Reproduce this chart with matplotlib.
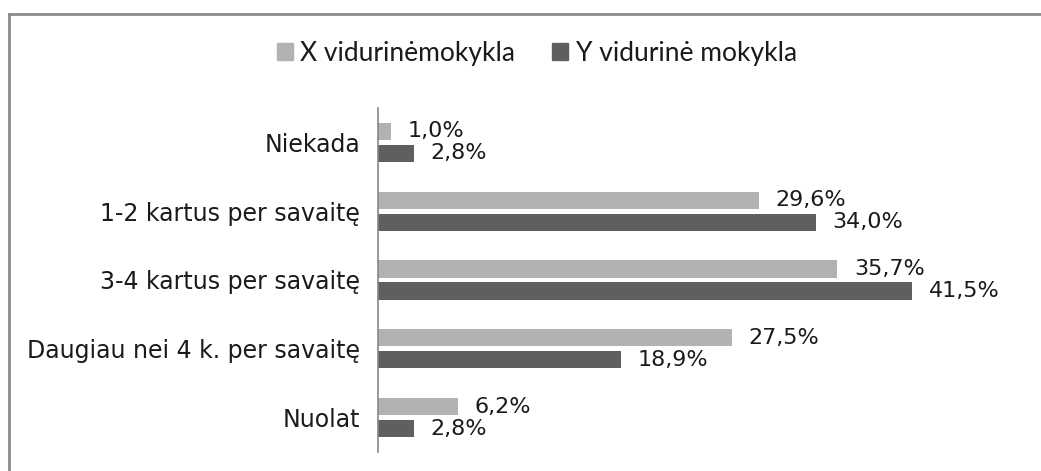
import matplotlib
matplotlib.use("Agg")
import matplotlib.pyplot as plt
from matplotlib.lines import Line2D
from matplotlib.patches import Patch
import numpy as np

categories = ["Niekada", "1-2 kartus per savaitę", "3-4 kartus per savaitę",
              "Daugiau nei 4 k. per savaitę", "Nuolat"]
series_names = ["X vidurinėmokykla", "Y vidurinė mokykla"]
x_values = [1.0, 29.6, 35.7, 27.5, 6.2]
y_values = [2.8, 34.0, 41.5, 18.9, 2.8]
colors = ["#b2b2b2", "#5f5f5f"]

W, H = 1041, 471
fig = plt.figure(figsize=(W / 100, H / 100), dpi=100)
ax = fig.add_axes([378 / W, 19 / H, 640 / W, 344 / H])

n = len(categories)
pos = np.arange(n)
bh = 0.25
gap = 0.07
ax.barh(pos - (bh + gap) / 2, x_values, height=bh, color=colors[0])
ax.barh(pos + (bh + gap) / 2, y_values, height=bh, color=colors[1])

for p, v in zip(pos, x_values):
    ax.text(v + 1.3, p - (bh + gap) / 2, f"{v:.1f}%".replace(".", ","),
            va="center", ha="left", fontsize=16, color="#1a1a1a")
for p, v in zip(pos, y_values):
    ax.text(v + 1.3, p + (bh + gap) / 2, f"{v:.1f}%".replace(".", ","),
            va="center", ha="left", fontsize=16, color="#1a1a1a")

ax.set_xlim(0, 640 / 12.87)
ax.set_ylim(n - 0.5, -0.5)
ax.set_yticks(pos)
ax.set_yticklabels(categories, fontsize=17, color="#1a1a1a")
ax.tick_params(axis="y", length=0, pad=13)
ax.set_xticks([])
for s in ["top", "right", "bottom"]:
    ax.spines[s].set_visible(False)
ax.spines["left"].set_color("#868686")
ax.spines["left"].set_linewidth(1.2)

handles = [Patch(color=colors[0]), Patch(color=colors[1])]
fig.legend(handles, series_names, loc="center", bbox_to_anchor=(537 / W, 1 - 53 / H),
           ncol=2, frameon=False, prop={"family": "Lato", "size": 19},
           handlelength=0.6, handleheight=0.6, handletextpad=0.3, columnspacing=1.4,
           labelcolor="#1a1a1a")

# outer frame (left and top edges visible)
fig.add_artist(Line2D([9 / W, 9 / W], [0, 1 - 14 / H], transform=fig.transFigure,
                      color="#8a8a8a", lw=2.0))
fig.add_artist(Line2D([9 / W, 1], [1 - 14 / H, 1 - 14 / H], transform=fig.transFigure,
                      color="#8a8a8a", lw=2.0))

fig.savefig("out.png", dpi=100)
